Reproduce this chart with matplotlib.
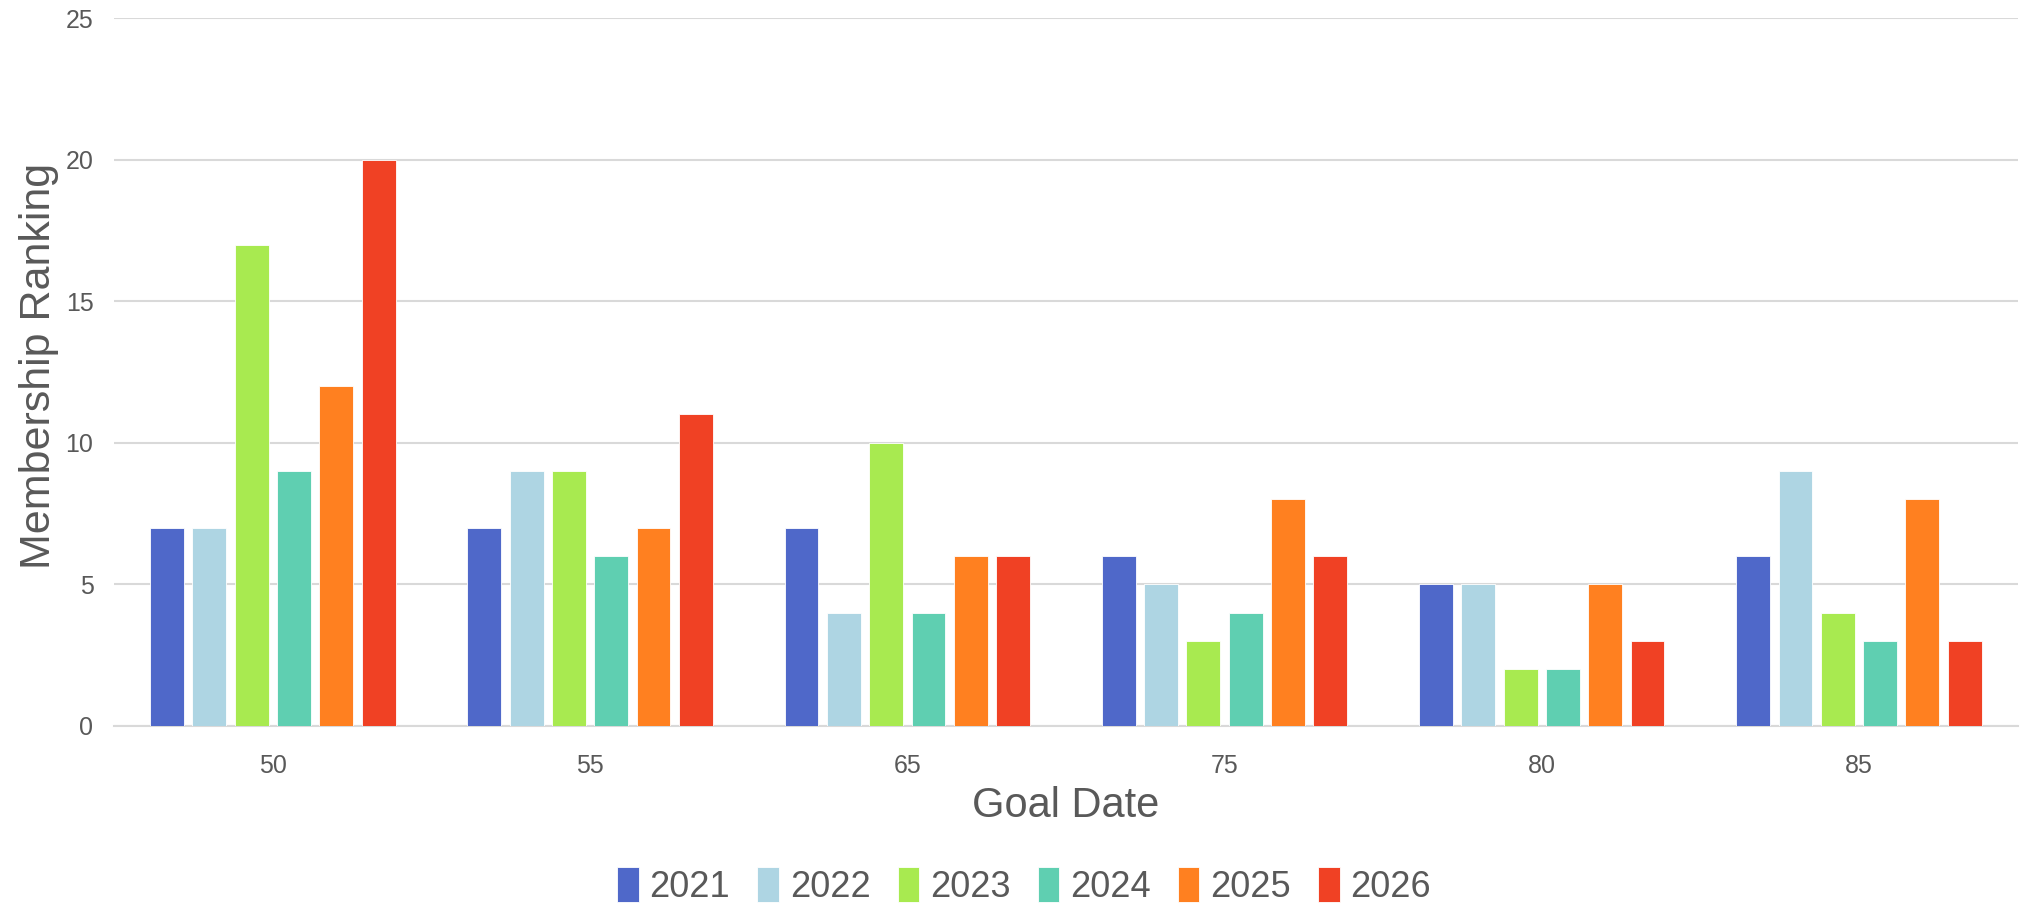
import numpy as np
import matplotlib.pyplot as plt

plt.rcParams['font.family'] = ['Liberation Sans', 'DejaVu Sans']

# data
goal_dates = ['50', '55', '65', '75', '80', '85']
years = ['2021', '2022', '2023', '2024', '2025', '2026']
y2021 = [7, 7, 7, 6, 5, 6]
y2022 = [7, 9, 4, 5, 5, 9]
y2023 = [17, 9, 10, 3, 2, 4]
y2024 = [9, 6, 4, 4, 2, 3]
y2025 = [12, 7, 6, 8, 5, 8]
y2026 = [20, 11, 6, 6, 3, 3]
series = [y2021, y2022, y2023, y2024, y2025, y2026]
colors = ['#4F68C9', '#AED5E3', '#A8EA50', '#5FCFB1', '#FF8020', '#F04124']

fig = plt.figure(figsize=(20.4, 9.05), dpi=100)
ax = fig.add_axes([0.056, 0.198, 0.933, 0.782])

x = np.arange(len(goal_dates))
step = 0.8 / len(series)
for i, (vals, c, yr) in enumerate(zip(series, colors, years)):
    ax.bar(x - 0.4 + step * (i + 0.5), vals, width=step * 0.8, color=c,
           label=yr, zorder=3, edgecolor='white', linewidth=0.6)

ax.set_xlim(-0.5, 5.5)
ax.set_ylim(0, 25)
ax.set_yticks([0, 5, 10, 15, 20, 25])
ax.set_xticks(x)
ax.set_xticklabels(goal_dates)
ax.tick_params(axis='both', length=0, labelsize=18, colors='#595959')
ax.tick_params(axis='y', pad=15)
ax.tick_params(axis='x', pad=20)
ax.grid(axis='y', color='#D9D9D9', linewidth=1.5, zorder=0)
for s in ['top', 'right', 'left']:
    ax.spines[s].set_visible(False)
ax.spines['bottom'].set_color('#D9D9D9')
ax.spines['bottom'].set_linewidth(1.5)

ax.set_xlabel('Goal Date', fontsize=30, color='#595959', labelpad=6)
ax.set_ylabel('Membership Ranking', fontsize=31, color='#595959')
ax.yaxis.set_label_coords(-0.029, 0.508)

fig.legend(loc='center', bbox_to_anchor=(0.502, 0.021), ncol=6, frameon=False,
           fontsize=26, labelcolor='#595959', handlelength=0.6, handleheight=1.1,
           handletextpad=0.3, columnspacing=0.75)

plt.savefig('out.png', dpi=100)
